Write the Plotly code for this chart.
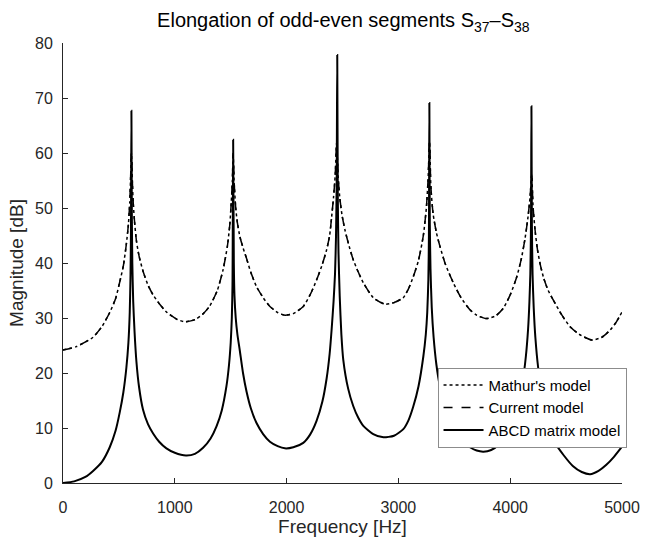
import plotly.graph_objects as go

# ABCD matrix model (solid)
freq_abcd = [
    0, 100, 200, 269, 350, 418, 470, 507, 540, 567, 585, 597, 604, 608, 612,
    616, 620, 628, 640, 657, 680, 716, 760, 806, 860, 925, 1000, 1100, 1180,
    1253, 1320, 1373, 1420, 1462, 1485, 1500, 1510, 1516, 1522,
    1528, 1534, 1545, 1560, 1582, 1610, 1642, 1680, 1731, 1790, 1851, 1920,
    1985, 2060, 2149, 2210, 2268, 2320, 2358, 2385, 2403, 2420, 2433, 2442,
    2448, 2453,
    2458, 2464, 2475, 2490, 2507, 2550, 2596, 2640, 2686, 2775, 2866, 2960,
    3044, 3090, 3133, 3180, 3223, 3245, 3258, 3268, 3273, 3277,
    3281, 3287, 3298, 3315, 3340, 3372, 3420, 3491, 3560, 3640, 3700, 3760,
    3830, 3900, 3960, 4020, 4070, 4110, 4140, 4160, 4172, 4180, 4186, 4190,
    4194, 4200, 4210, 4225, 4250, 4290, 4340, 4400, 4480, 4560, 4640, 4715,
    4790, 4860, 4930, 5000,
]
abcd_db = [
    0.0, 0.3, 1.1, 2.2, 3.9, 6.5, 9.5, 12.8, 16.5, 21.0, 25.5, 31.0, 38.0, 46.0, 67.7,
    48.0, 40.0, 33.0, 27.5, 22.0, 17.5, 13.3, 10.7, 9.0, 7.5, 6.3, 5.5, 5.0, 5.3,
    6.4, 8.1, 10.3, 13.2, 17.6, 21.5, 25.5, 30.0, 36.0, 62.4,
    40.0, 34.0, 30.0, 27.0, 24.0, 20.0, 16.6, 13.6, 10.9, 8.9, 7.5, 6.7,
    6.3, 6.5, 7.3, 8.8, 11.3, 14.8, 19.0, 23.5, 28.0, 33.0, 38.0, 45.0,
    55.0, 77.8,
    52.0, 42.0, 34.0, 27.0, 22.4, 17.2, 14.0, 11.9, 10.4, 8.9, 8.3, 8.6,
    9.8, 11.4, 13.9, 17.6, 23.0, 27.0, 31.0, 37.0, 45.0, 69.1,
    47.0, 39.0, 32.0, 26.5, 21.5, 17.5, 13.6, 9.8, 7.8, 6.5, 5.9, 5.7,
    6.0, 7.0, 8.6, 11.0, 14.2, 18.2, 23.0, 28.0, 33.0, 38.0, 47.0, 68.5,
    47.0, 38.0, 32.0, 26.5, 21.0, 15.5, 10.3, 7.3, 5.0, 3.1, 2.0, 1.6,
    2.2, 3.3, 4.8, 6.6,
]

# Mathur's model and current model (they overlap almost everywhere)
freq_model = [
    0, 119, 269, 350, 418, 470, 507, 540, 567, 585, 597, 604, 612,
    620, 628, 640, 657, 680, 716, 760, 806, 865, 925, 1015, 1090, 1180, 1250,
    1313, 1380, 1432, 1470, 1492, 1505, 1515, 1522,
    1530, 1545, 1560, 1582, 1610, 1642, 1680, 1731, 1790, 1851, 1920, 1985,
    2060, 2149, 2210, 2268, 2320, 2358, 2385, 2403, 2420, 2435, 2448,
    2460, 2475, 2495, 2522, 2560, 2596, 2640, 2686, 2775, 2880, 2960, 3044,
    3090, 3133, 3180, 3223, 3250, 3265, 3279,
    3290, 3310, 3340, 3372, 3420, 3491, 3560, 3640, 3700, 3790, 3870, 3939,
    4000, 4059, 4100, 4133, 4160, 4178, 4192,
    4205, 4225, 4245, 4268, 4300, 4340, 4387, 4460, 4536, 4620, 4730, 4820,
    4894, 4950, 5000,
]
mathur_db = [
    24.2, 24.8, 26.5, 28.5, 31.0, 33.5, 36.5, 39.5, 43.5, 47.0, 51.0, 55.0, 60.0,
    55.0, 51.0, 47.5, 44.0, 41.3, 38.5, 36.0, 34.2, 32.5, 31.1, 29.8, 29.3, 29.7, 30.7,
    32.2, 35.0, 38.8, 43.0, 47.0, 51.0, 55.0, 60.0,
    55.0, 50.0, 47.3, 44.8, 42.8, 40.8, 38.3, 35.7, 33.7, 32.1, 31.0, 30.5,
    30.8, 32.1, 34.2, 36.9, 39.8, 42.4, 45.0, 48.4, 52.0, 56.0, 62.0,
    56.0, 52.0, 48.8, 46.0, 43.0, 40.6, 38.4, 36.4, 33.7, 32.5, 32.8, 33.7,
    35.3, 37.5, 40.5, 45.0, 50.0, 55.0, 62.0,
    54.0, 49.0, 45.5, 43.0, 39.8, 36.4, 33.7, 31.5, 30.5, 29.9, 30.4, 31.8,
    34.2, 37.5, 40.8, 44.5, 48.5, 52.0, 56.0,
    50.0, 45.5, 42.3, 39.8, 37.2, 35.0, 33.2, 30.6, 28.4, 27.0, 26.0, 26.5,
    27.8, 29.3, 31.1,
]
current_db = list(mathur_db)

x_ticks = [0, 1000, 2000, 3000, 4000, 5000]
y_ticks = [0, 10, 20, 30, 40, 50, 60, 70, 80]

AXIS_COLOR = "#262626"
FONT = "Liberation Sans, Arial, sans-serif"

fig = go.Figure()
fig.add_trace(go.Scatter(
    x=freq_model, y=mathur_db, mode="lines", name="Mathur's model",
    line=dict(color="black", width=1.5, dash="dot", shape="spline", smoothing=0.6),
))
fig.add_trace(go.Scatter(
    x=freq_model, y=current_db, mode="lines", name="Current model",
    line=dict(color="black", width=1.5, dash="dash", shape="spline", smoothing=0.6),
))
fig.add_trace(go.Scatter(
    x=freq_abcd, y=abcd_db, mode="lines", name="ABCD matrix model",
    line=dict(color="black", width=2, shape="spline", smoothing=0.6),
))

axis_common = dict(
    showline=True, linecolor=AXIS_COLOR, linewidth=1, mirror=False,
    ticks="inside", ticklen=5, tickcolor=AXIS_COLOR,
    showgrid=False, zeroline=False, automargin=False,
    tickfont=dict(size=16, color=AXIS_COLOR, family=FONT),
)

fig.update_layout(
    width=654, height=539,
    margin=dict(l=63, r=32, t=43, b=56),
    paper_bgcolor="white", plot_bgcolor="white",
    font=dict(family=FONT, color=AXIS_COLOR),
    title=dict(
        text="Elongation of odd-even segments S<sub>37</sub>\u2013S<sub>38</sub>",
        x=0.525, xanchor="center", y=0.962, yanchor="middle",
        font=dict(size=20, color="black", family=FONT),
    ),
    xaxis=dict(
        range=[0, 5000], tickvals=x_ticks, ticklabelstandoff=10,
        title=dict(text="Frequency [Hz]", font=dict(size=19, family=FONT), standoff=2),
        **axis_common,
    ),
    yaxis=dict(
        range=[0, 80], tickvals=y_ticks, ticklabelstandoff=6,
        title=dict(text="Magnitude [dB]", font=dict(size=19, family=FONT), standoff=6),
        **axis_common,
    ),
    showlegend=True,
    legend=dict(
        x=0.67, y=0.262, xanchor="left", yanchor="top",
        bgcolor="white", bordercolor="#8c8c8c", borderwidth=1,
        font=dict(size=15, color="black", family=FONT),
        itemwidth=40, tracegroupgap=0,
    ),
)

# drop the page's default body margin so the figure sits at the window corner
fig.write_html(
    "out.html",
    config={"displayModeBar": False},
    post_script="document.body.style.margin='0';",
)
